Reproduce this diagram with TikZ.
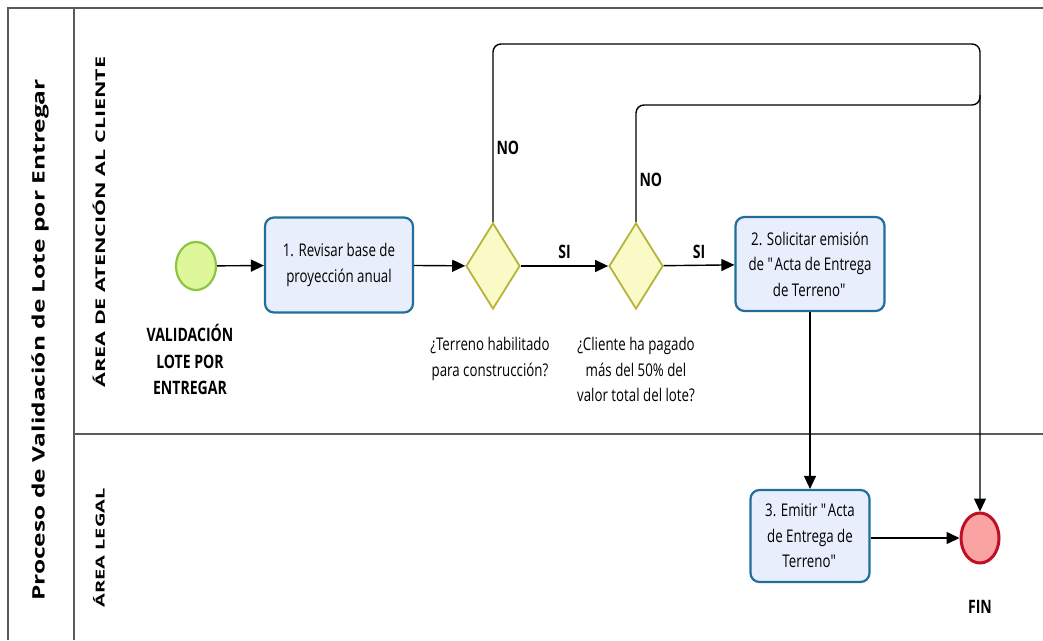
\documentclass[tikz,border=0pt]{standalone}
\usepackage{fontspec}
\setmainfont{Open Sans}[FakeStretch=0.76]
\newfontfamily\titlefont{Open Sans}
\usetikzlibrary{shapes.geometric,arrows.meta}

\definecolor{frameline}{HTML}{5A5A5A}
\definecolor{taskfill}{HTML}{E9EEFC}
\definecolor{taskdraw}{HTML}{1F6E9C}
\definecolor{gatefill}{HTML}{FAFAC6}
\definecolor{gatedraw}{HTML}{B4B43C}
\definecolor{startfill}{HTML}{DDF79A}
\definecolor{startdraw}{HTML}{8BC640}
\definecolor{endfill}{HTML}{F9A3A3}
\definecolor{enddraw}{HTML}{C01025}

\newcommand{\dq}{\textquotedbl}

\tikzset{
  lane/.style={draw=frameline, line width=1.6pt},
  task/.style={draw=taskdraw, fill=taskfill, line width=2.2pt, rounded corners=9pt,
    minimum width=148pt, minimum height=94pt, align=center, font=\fontsize{17.5}{25.5}\selectfont},
  gate/.style={draw=gatedraw, fill=gatefill, line width=1.8pt, diamond, aspect=0.63,
    minimum width=54pt, minimum height=86pt, inner sep=0pt},
  startev/.style={draw=startdraw, fill=startfill, line width=2.2pt, ellipse,
    minimum width=40pt, minimum height=48pt, inner sep=0pt},
  endev/.style={draw=enddraw, fill=endfill, line width=3pt, ellipse,
    minimum width=38pt, minimum height=50pt, inner sep=0pt},
  flow/.style={draw=black, line width=1.4pt, -{Triangle[length=13pt,width=12pt]}},
  lbl/.style={align=center, font=\fontsize{17.5}{25.5}\selectfont},
  blbl/.style={align=center, font=\fontsize{18.5}{26.5}\selectfont\bfseries},
  vtitle/.style={rotate=90, font=\titlefont\bfseries}
}

\begin{document}
\begin{tikzpicture}[x=1pt,y=-1pt]
\useasboundingbox (0,0) rectangle (1043,640);

% pool and lanes
\draw[lane] (8,640) -- (8,8) -- (1043,8);
\draw[lane] (74,8) -- (74,640);
\draw[lane] (74,434) -- (1043,434);

\node[vtitle] (pooltitle) at (40,340) {\scalebox{1}[0.7]{\fontsize{24.5}{28}\selectfont Proceso de Validación de Lote por Entregar}};
\node[vtitle] (lanetop) at (99,222) {\scalebox{1}[0.62]{\fontsize{21.5}{24}\selectfont ÁREA DE ATENCIÓN AL CLIENTE}};
\node[vtitle] (lanelegal) at (99,548) {\scalebox{1}[0.62]{\fontsize{20}{24}\selectfont ÁREA LEGAL}};

% events, tasks and gateways
\node[startev] (start) at (196,266) {};
\node[blbl, anchor=north] (startlbl) at (190,321) {VALIDACIÓN\\LOTE POR\\ENTREGAR};

\node[task, minimum width=148pt, minimum height=95pt] (t1) at (339,265) {1. Revisar base de\\proyección anual};

\node[gate] (g1) at (493,266) {};
\node[lbl, anchor=north] (g1lbl) at (490,334) {¿Terreno habilitado\\para construcción?};

\node[gate] (g2) at (636,266) {};
\node[lbl, anchor=north] (g2lbl) at (636,334) {¿Cliente ha pagado\\más del 50\% del\\valor total del lote?};

\node[task, minimum width=149pt, minimum height=94pt] (t2) at (810,264) {2. Solicitar emisión\\de \dq Acta de Entrega\\de Terreno\dq};

\node[task, minimum width=119pt, minimum height=92pt] (t3) at (810,536) {3. Emitir \dq Acta\\de Entrega de\\Terreno\dq};

\node[endev] (fin) at (980,538) {};
\node[blbl] (finlbl) at (980,607) {FIN};

% sequence flows
\draw[flow] (start) -- (t1);
\draw[flow] (t1) -- (g1);
\draw[flow] (g1) -- node[blbl, above=3pt] (si1) {SI} (g2);
\draw[flow] (g2) -- node[blbl, above=3pt] (si2) {SI} (t2);
\draw[flow] (t2) -- (t3);
\draw[flow] (t3.east |- fin.west) -- (fin.west);

\coordinate (topA) at (493,44);
\coordinate (topB) at (636,105);
\draw[flow, rounded corners=8pt] (g1.north) -- (topA) -- (fin.north |- topA) -- (fin.north);
\draw[draw=black, line width=1.4pt, rounded corners=8pt] (g2.north) -- (topB) -- (fin.north |- topB) -- ([yshift=10pt]fin.north |- topB);

\node[blbl, anchor=west] (no1) at (493,148) {NO};
\node[blbl, anchor=west] (no2) at (636,180) {NO};
\end{tikzpicture}
\end{document}
